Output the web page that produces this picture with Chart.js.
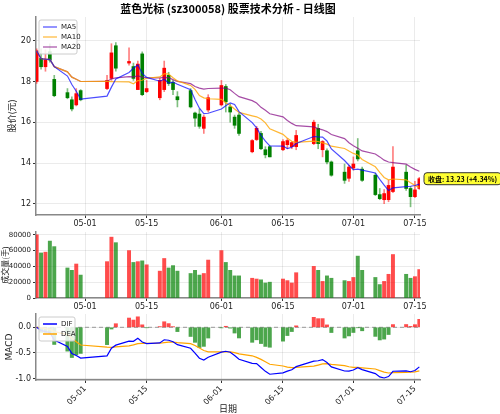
<!DOCTYPE html>
<html><head><meta charset="utf-8">
<script src="https://cdn.jsdelivr.net/npm/chart.js@4/dist/chart.umd.min.js"></script>
<style>
body{margin:0;background:#fff;width:500px;height:414px;position:relative;overflow:hidden}
canvas{position:absolute;left:0}
</style></head><body>
<canvas id="c1" width="500" height="230" style="top:0;width:500px;height:230px"></canvas>
<canvas id="c2" width="500" height="83" style="top:230px;width:500px;height:83px"></canvas>
<canvas id="c3" width="500" height="101" style="top:313px;width:500px;height:101px"></canvas>
<script>
const titleText = '蓝色光标 (sz300058) 股票技术分析 - 日线图';
const dates = ['04-20','04-21','04-22','04-23','04-24','04-27','04-28','04-29','04-30',
 '05-06','05-07','05-08','05-11','05-12','05-13','05-14','05-15',
 '05-18','05-19','05-20','05-21','05-22','05-25','05-26','05-27','05-28','05-29',
 '06-01','06-02','06-03','06-04','06-05','06-08','06-09','06-10','06-11','06-12',
 '06-15','06-16','06-17','06-18','06-22','06-23','06-24','06-25','06-26',
 '06-29','06-30','07-01','07-02','07-03','07-06','07-07','07-08','07-09','07-10',
 '07-13','07-14','07-15','07-16'];
const openP = [18.0,19.13,18.72,19.46,18.1,17.45,17.1,16.85,17.55,
 17.65,18.15,19.75,18.9,18.73,17.6,19.35,17.5,
 17.2,17.6,18.3,17.95,17.25,17.55,16.45,16.4,15.7,16.6,
 16.85,17.75,16.75,16.25,16.35,14.55,15.15,15.45,14.65,14.8,
 14.65,14.9,14.8,14.8,14.95,15.7,14.65,14.6,14.05,
 13.55,13.25,13.75,14.6,13.7,13.4,12.45,12.2,12.2,12.6,
 13.55,12.75,12.35,12.75];
const highP = [19.6,19.6,19.55,19.85,18.3,17.65,17.25,17.65,17.6,
 18.3,19.85,19.9,19.65,18.9,19.0,19.45,18.05,
 18.15,19.0,18.45,18.05,17.5,17.65,16.5,16.65,16.35,17.35,
 18.05,17.85,16.9,16.35,16.45,15.15,15.8,15.55,14.8,14.85,
 15.15,15.2,15.05,15.6,16.1,15.9,15.1,14.7,14.1,
 13.95,13.9,14.3,15.2,13.8,13.5,12.75,12.7,13.15,14.8,
 13.9,12.85,13.1,13.3];
const lowP = [17.9,18.6,18.5,18.95,17.25,17.15,16.55,16.8,17.05,
 17.6,18.05,18.5,18.8,18.05,17.6,17.3,17.45,
 17.1,17.5,17.8,17.35,16.75,16.7,15.8,15.7,15.45,16.5,
 16.8,16.5,16.0,15.7,15.35,14.5,15.1,14.65,14.25,14.3,
 14.6,14.7,14.7,14.65,14.9,14.7,14.3,13.95,13.35,
 13.0,13.1,13.65,14.1,13.1,12.4,12.2,12.0,12.1,12.55,
 12.65,11.85,12.3,12.7];
const closeP = [19.5,18.72,19.05,19.05,17.3,17.2,16.65,17.4,17.1,
 18.05,19.4,18.65,18.98,18.15,18.85,17.35,17.65,
 18.05,18.65,17.9,17.6,17.1,16.75,16.2,15.8,16.25,17.2,
 17.8,17.0,16.5,15.85,15.45,15.1,15.7,14.7,14.4,14.3,
 15.05,15.1,15.0,15.35,16.0,14.95,15.05,14.05,13.4,
 13.15,13.8,13.95,14.2,13.15,12.45,12.25,12.5,12.9,13.8,
 12.75,12.35,12.68,13.23];
const volume = [80000,57000,58000,72000,65000,38000,35000,43000,29000,
 46000,77000,70000,60000,45000,46000,47000,42000,
 34000,50000,38000,41000,34000,31000,35000,29000,31000,48000,
 60000,45000,35000,28000,28000,25000,24000,23000,19000,20000,
 24000,22000,19000,32000,40000,35000,21000,28000,25000,
 22000,21000,26000,53000,35000,26000,17000,21000,30000,55000,
 30000,25000,27000,36000];
const xTickLabels = ['05-01','05-15','06-01','06-15','07-01','07-15'];
const lastLabel = '收盘: 13.23 (+4.34%)';

const day = s => { const [m,d]=s.split('-').map(Number); return Math.round((Date.UTC(2026,m-1,d)-Date.UTC(2026,3,20))/864e5); };
const xs = dates.map(day);
const tickVals = xTickLabels.map(day);
const up = closeP.map((c,i)=>c>=openP[i]);
const RED='#ff0000', GREEN='#008000';

function ma(n){return closeP.map((_,i)=>{const s=closeP.slice(Math.max(0,i-n+1),i+1);return s.reduce((a,b)=>a+b,0)/s.length;});}
function ema(arr,n){const a=2/(n+1);const o=[];arr.forEach((v,i)=>o.push(i?a*v+(1-a)*o[i-1]:v));return o;}
const e12=ema(closeP,12), e26=ema(closeP,26);
const dif=e12.map((v,i)=>v-e26[i]);
const dea=ema(dif,9);
const hist=dif.map((v,i)=>2*(v-dea[i]));
const ma5=ma(5), ma10=ma(10), ma20=ma(20);

const FONT='DejaVu Sans';
Chart.defaults.font.family=FONT;
Chart.defaults.font.size=8;
Chart.defaults.color='#222';
Chart.defaults.animation=false;

const GRID={color:'rgba(0,0,0,0.08)',tickLength:3,tickColor:'#333',offset:false};
const BORDER={color:'#888',width:1.5};
const tickCb=(v)=>{const i=tickVals.indexOf(v);return i>=0?xTickLabels[i]:'';};
function xScale(h,extra){
 const base={type:'linear',min:-0.15,max:87.15,offset:false,
  afterBuildTicks:s=>{s.ticks=tickVals.map(v=>({value:v}));},
  afterFit:s=>{s.height=h;s.paddingLeft=0;s.paddingRight=0;},
  ticks:{callback:tickCb,maxRotation:0,minRotation:0,padding:1,font:{size:8}},
  grid:GRID,border:BORDER};
 return Object.assign(base,extra||{});
}
const yFit=w=>s=>{s.width=w;s.paddingTop=0;s.paddingBottom=0;};

const legendPlugin={id:'mplLegend',afterDatasetsDraw(ch,a,opt){
 if(!opt||!opt.items)return;const ctx=ch.ctx,ca=ch.chartArea;
 const x=ca.left+3,y=ca.top+3,w=opt.w,lh=10,h=opt.items.length*lh+4;
 ctx.save();ctx.fillStyle='rgba(255,255,255,0.85)';ctx.strokeStyle='#ccc';ctx.lineWidth=1;
 ctx.beginPath();ctx.roundRect(x,y,w,h,2);ctx.fill();ctx.stroke();
 ctx.font='7px '+FONT;ctx.textBaseline='middle';
 opt.items.forEach((it,i)=>{const yy=y+7+i*lh;ctx.strokeStyle=it.c;ctx.lineWidth=it.lw||1.2;ctx.beginPath();ctx.moveTo(x+4,yy);ctx.lineTo(x+18,yy);ctx.stroke();ctx.fillStyle='#222';ctx.fillText(it.t,x+22,yy);});
 ctx.restore();}};
Chart.register(legendPlugin);

const titlePlugin={id:'ttl',afterDraw(ch){const c=ch.ctx;c.save();c.font='bold 11px "Noto Sans CJK SC", '+FONT;c.textAlign='center';c.textBaseline='middle';c.fillStyle='#000';c.fillText(titleText,228,9);c.restore();}};
const annPlugin={id:'ann',afterDraw(ch){const c=ch.ctx;const y=ch.scales.y.getPixelForValue(closeP[closeP.length-1]);
 c.save();c.font='bold 7px "Noto Sans CJK SC", '+FONT;const w=c.measureText(lastLabel).width+8;const x=424;
 c.fillStyle='#ffff33';c.strokeStyle='#333';c.lineWidth=1;c.beginPath();c.roundRect(x,y-6,w,12,3);c.fill();c.stroke();
 c.fillStyle='#000';c.textBaseline='middle';c.fillText(lastLabel,x+4,y+0.5);c.restore();}};

new Chart(document.getElementById('c1'),{
 data:{datasets:[
  {type:'bar',data:xs.map((x,i)=>({x,y:[lowP[i],highP[i]]})),backgroundColor:up.map(u=>u?'rgba(255,0,0,0.5)':'rgba(0,128,0,0.5)'),barThickness:1,grouped:false,order:3},
  {type:'bar',data:xs.map((x,i)=>({x,y:[Math.min(openP[i],closeP[i]),Math.max(openP[i],closeP[i])+0.001]})),backgroundColor:up.map(u=>u?RED:GREEN),barThickness:3,grouped:false,order:2},
  {type:'line',data:xs.map((x,i)=>({x,y:ma5[i]})),borderColor:'rgba(0,0,255,0.7)',borderWidth:1.2,pointRadius:0,order:1},
  {type:'line',data:xs.map((x,i)=>({x,y:ma10[i]})),borderColor:'rgba(255,165,0,0.8)',borderWidth:1.2,pointRadius:0,order:1},
  {type:'line',data:xs.map((x,i)=>({x,y:ma20[i]})),borderColor:'rgba(128,0,128,0.7)',borderWidth:1.2,pointRadius:0,order:1}
 ]},
 options:{responsive:false,devicePixelRatio:1,layout:{padding:{top:17,right:80,left:0,bottom:0}},
  plugins:{legend:{display:false},tooltip:{enabled:false},mplLegend:{w:38,items:[{t:'MA5',c:'rgba(0,0,255,0.7)'},{t:'MA10',c:'rgba(255,165,0,0.8)'},{t:'MA20',c:'rgba(128,0,128,0.7)'}]}},
  scales:{x:xScale(15),
   y:{type:'linear',min:11.45,max:21.16,afterBuildTicks:s=>{s.ticks=[12,14,16,18,20].map(v=>({value:v}));},afterFit:yFit(36),
    title:{display:true,text:'股价(元)',font:{size:9,family:'"Noto Sans CJK SC"'},padding:{top:6,bottom:0}},
    ticks:{padding:2},grid:GRID,border:BORDER}}},
 plugins:[titlePlugin,annPlugin]});

new Chart(document.getElementById('c2'),{type:'bar',
 data:{datasets:[{data:xs.map((x,i)=>({x,y:volume[i]})),backgroundColor:up.map(u=>u?'rgba(255,0,0,0.7)':'rgba(0,128,0,0.7)'),barThickness:3.3}]},
 options:{responsive:false,devicePixelRatio:1,layout:{padding:{top:2,right:80,left:0,bottom:0}},
  plugins:{legend:{display:false},tooltip:{enabled:false}},
  scales:{x:xScale(15),
   y:{type:'linear',min:0,max:83500,afterBuildTicks:s=>{s.ticks=[0,20000,40000,60000,80000].map(v=>({value:v}));},afterFit:yFit(36),
    title:{display:true,text:'成交量(手)',font:{size:8,family:'"Noto Sans CJK SC"'},padding:0},
    ticks:{padding:2,font:{size:7},callback:v=>String(v)},grid:GRID,border:BORDER}}}});

const zeroPlugin={id:'zero',beforeDatasetsDraw(ch){const c=ch.ctx,ca=ch.chartArea,y=ch.scales.y.getPixelForValue(0);c.save();c.strokeStyle='#999';c.setLineDash([4,3]);c.lineWidth=1;c.beginPath();c.moveTo(ca.left,y);c.lineTo(ca.right,y);c.stroke();c.restore();}};
new Chart(document.getElementById('c3'),{
 data:{datasets:[
  {type:'bar',data:xs.map((x,i)=>({x,y:hist[i]})),backgroundColor:hist.map(h=>h>=0?'rgba(255,0,0,0.7)':'rgba(0,128,0,0.7)'),barThickness:3.3,order:2},
  {type:'line',data:xs.map((x,i)=>({x,y:dif[i]})),borderColor:'#0000ff',borderWidth:1.2,pointRadius:0,order:1},
  {type:'line',data:xs.map((x,i)=>({x,y:dea[i]})),borderColor:'#ffa500',borderWidth:1.2,pointRadius:0,order:1}]},
 options:{responsive:false,devicePixelRatio:1,layout:{padding:{top:1,right:80,left:0,bottom:0}},
  plugins:{legend:{display:false},tooltip:{enabled:false},mplLegend:{w:36,items:[{t:'DIF',c:'#0000ff',lw:1.5},{t:'DEA',c:'#ffa500',lw:1.5}]}},
  scales:{x:xScale(34,{title:{display:true,text:'日期',font:{size:9,family:'"Noto Sans CJK SC"'},padding:0},
     ticks:{callback:tickCb,maxRotation:45,minRotation:45,padding:1,font:{size:8}}}),
   y:{type:'linear',min:-1.03,max:0.26,afterBuildTicks:s=>{s.ticks=[-1,-0.5,0].map(v=>({value:v}));},afterFit:yFit(36),
    title:{display:true,text:'MACD',font:{size:9},padding:{top:4,bottom:0}},
    ticks:{padding:2,callback:v=>v.toFixed(1)},grid:GRID,border:BORDER}}},
 plugins:[zeroPlugin]});
</script>
</body></html>
